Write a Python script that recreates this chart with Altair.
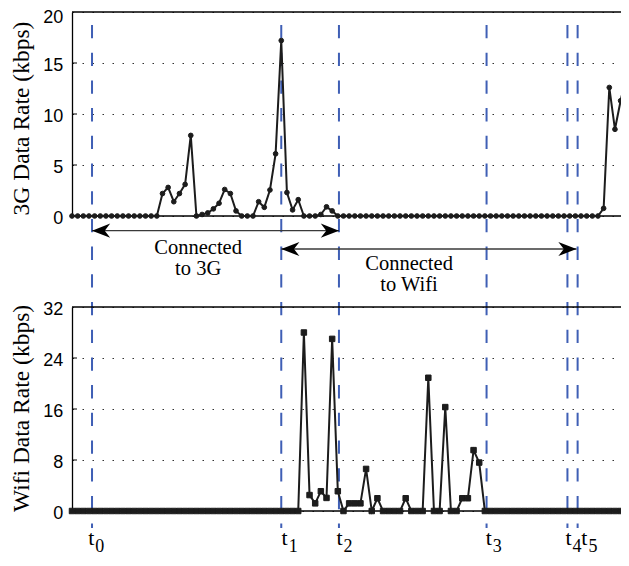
import altair as alt
import pandas as pd

# ---------------- data ----------------
idx = list(range(99))

rate_3g = [
    0, 0, 0, 0, 0, 0, 0, 0, 0, 0, 0, 0, 0, 0, 0, 0,
    2.2, 2.8, 1.4, 2.2, 3.1, 7.9, 0, 0.15, 0.3, 0.7, 1.25, 2.6, 2.2, 0.5, 0, 0,
    0, 1.4, 0.85, 2.55, 6.1, 17.2, 2.3, 0.6, 1.6, 0, 0, 0, 0.15, 0.9, 0.5,
    0, 0, 0, 0, 0, 0, 0, 0, 0, 0,
    0, 0, 0, 0, 0, 0, 0, 0, 0, 0,
    0, 0, 0, 0, 0, 0, 0, 0, 0, 0,
    0, 0, 0, 0, 0, 0, 0, 0, 0, 0,
    0, 0, 0, 0, 0, 0, 0,
    0.75, 12.6, 8.5, 11.3, 13.7,
]

rate_wifi = [
    0, 0, 0, 0, 0, 0, 0, 0, 0, 0,
    0, 0, 0, 0, 0, 0, 0, 0, 0, 0,
    0, 0, 0, 0, 0, 0, 0, 0, 0, 0,
    0, 0, 0, 0, 0, 0, 0, 0, 0, 0,
    0,
    28.0, 2.5, 1.2, 3.1, 2.05, 27.0, 3.1, 0, 1.2, 1.2, 1.2, 6.6, 0, 2.0, 0, 0,
    0, 0, 2.0, 0, 0, 0, 20.9, 0, 0, 16.3, 0, 0, 2.0, 2.0, 9.55, 7.6, 0,
    0, 0, 0, 0, 0, 0, 0, 0, 0, 0,
    0, 0, 0, 0, 0, 0, 0, 0, 0, 0,
    0, 0, 0, 0, 0,
]
assert len(rate_3g) == 99 and len(rate_wifi) == 99

ticks_3g = [0, 5, 10, 15, 20]
ticks_wifi = [0, 8, 16, 24, 32]

t_pos = [3.54, 37.0, 47.2, 73.3, 87.6, 89.4]        # event times (sample index)
t_sub = ["0", "1", "2", "3", "4", "5"]
t_label_x = [3.4, 37.6, 47.3, 73.7, 87.8, 90.6]     # label anchors (sample index)

arrow_start = [3.54, 37.0]
arrow_end = [47.2, 89.2]
arrow_py = [218.7, 237.0]

ann_text = ["Connected\nto 3G", "Connected\nto Wifi"]
ann_x = [22.3, 59.6]
ann_py = [242.3, 258.0]

# ---------------- layout constants ----------------
W = 549
H = 499
XMAX = 97.07
TOP_RANGE = [204, 0]
BOT_RANGE = [499, 295]
LINE_C = "#1c1c1c"
BLUE = "#3f5fb5"

xs = alt.Scale(domain=[0, XMAX], nice=False, zero=False)


def panel_axis(values, title, title_y):
    top_val = values[-1]
    return alt.Axis(
        values=values, title=title, orient="left",
        grid=True, gridDash=[1.5, 8.5], gridColor="#333333", gridWidth=1,
        ticks=False, tickSize=0, labelPadding=9.3, labelFlush=False,
        labelOffset={"condition": {"test": f"datum.value == {top_val} && {top_val} == 20",
                                   "value": 5.8}, "value": 2.5},
        labelFont="Liberation Sans", labelFontSize=18, labelColor="black",
        domainColor="black", domainWidth=1.3,
        titleFont="Liberation Serif", titleFontSize=23.5, titleFontWeight="normal",
        titleColor="black", titleAngle=270, titleAlign="center", titleBaseline="middle",
        titleX=-51, titleY=title_y,
    )


def panel(values, ticks, rng, title, title_y, shape, size, open_last):
    df = pd.DataFrame({"i": idx, "v": values, "last": [open_last and k == idx[-1] for k in idx]})
    ys = alt.Scale(domain=[ticks[0], ticks[-1]], range=rng, nice=False, zero=False)
    ax = panel_axis(ticks, title, title_y)
    x_enc = alt.X("i:Q", scale=xs, axis=None)
    line = alt.Chart(df).mark_line(color=LINE_C, strokeWidth=2).encode(
        x=x_enc, y=alt.Y("v:Q", scale=ys, axis=ax, title=title))
    pts = alt.Chart(df).mark_point(shape=shape, filled=True, size=size, opacity=1).encode(
        x=x_enc, y=alt.Y("v:Q", scale=ys, title=title),
        fill=alt.condition("datum.last", alt.value("white"), alt.value(LINE_C)),
        stroke=alt.value(LINE_C), strokeWidth=alt.value(1))
    frame = alt.Chart(pd.DataFrame({"v": [ticks[0], ticks[-1]]})).mark_rule(
        color="black", strokeWidth=1.3).encode(
        y=alt.Y("v:Q", scale=ys, title=title), x=alt.value(0), x2=alt.value(W))
    tk = alt.Chart(pd.DataFrame({"v": ticks[1:-1]})).mark_rule(
        color="black", strokeWidth=1).encode(
        y=alt.Y("v:Q", scale=ys, title=title), x=alt.value(0), x2=alt.value(5))
    return alt.layer(frame, tk, line, pts)


top = panel(rate_3g, ticks_3g, TOP_RANGE, "3G Data Rate (kbps)", 106, "circle", 22, True)
bottom = panel(rate_wifi, ticks_wifi, BOT_RANGE, "Wifi Data Rate (kbps)", 396, "square", 30, False)

# dashed event lines
df_t = pd.DataFrame({"t": t_pos, "lx": t_label_x, "n": t_sub})
dashes = alt.Chart(df_t).mark_rule(color=BLUE, strokeWidth=2, strokeDash=[13.3, 14.4]).encode(
    x=alt.X("t:Q", scale=xs, axis=None), y=alt.value(13), y2=alt.value(516))

# arrows
df_arr = pd.DataFrame({"a": arrow_start, "b": arrow_end, "py": arrow_py})
arr_lines = alt.Chart(df_arr).mark_rule(color="#3a3a3a", strokeWidth=1.3).encode(
    x=alt.X("a:Q", scale=xs, axis=None), x2="b:Q", y=alt.Y("py:Q", scale=None))

HEAD_L = "M0,0 L2,-0.78 L1.4,0 L2,0.78 Z"
HEAD_R = "M0,0 L-2,-0.78 L-1.4,0 L-2,0.78 Z"
df_heads = pd.DataFrame({
    "x": arrow_start + arrow_end,
    "py": arrow_py + arrow_py,
    "shape": [HEAD_L, HEAD_L, HEAD_R, HEAD_R],
})
heads = alt.Chart(df_heads).mark_point(filled=True, size=330, opacity=1, color="black").encode(
    x=alt.X("x:Q", scale=xs, axis=None), y=alt.Y("py:Q", scale=None),
    shape=alt.Shape("shape:N", scale=None))

# annotation texts
df_ann = pd.DataFrame({"txt": ann_text, "x": ann_x, "py": ann_py})
ann = alt.Chart(df_ann).mark_text(
    font="Liberation Serif", fontSize=20.5, lineBreak="\n", lineHeight=21,
    align="center", baseline="alphabetic", color="black").encode(
    x=alt.X("x:Q", scale=xs, axis=None), y=alt.Y("py:Q", scale=None), text="txt:N")

# t labels with subscripts
t_main = alt.Chart(df_t).mark_text(
    text="t", font="Liberation Serif", fontSize=22, align="center",
    baseline="alphabetic", color="black").encode(
    x=alt.X("lx:Q", scale=xs, axis=None), y=alt.value(532.5))
t_subs = alt.Chart(df_t).mark_text(
    font="Liberation Serif", fontSize=18, align="left", dx=4,
    baseline="alphabetic", color="black").encode(
    x=alt.X("lx:Q", scale=xs, axis=None), y=alt.value(539.5), text="n:N")

chart = alt.layer(
    dashes, top, bottom, arr_lines, heads, ann, t_main, t_subs
).resolve_scale(y="independent").properties(
    width=W, height=H, autosize="none",
    padding={"left": 64, "top": 4, "right": 0, "bottom": 45},
).configure_view(strokeWidth=0)

chart.save("out.html", embed_options={"renderer": "svg", "actions": False})
